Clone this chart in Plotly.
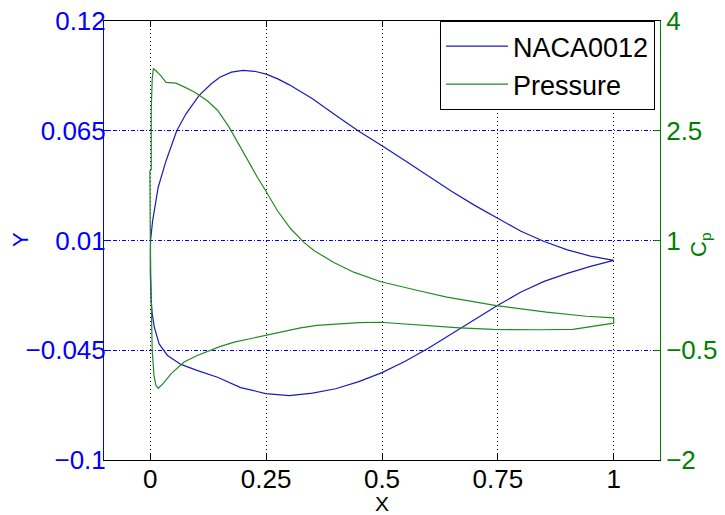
import plotly.graph_objects as go

# Airfoil surface coordinates (leading edge -> trailing edge)
upper_x = [0.0, 0.0005, 0.005, 0.017, 0.034, 0.057, 0.077, 0.105, 0.131, 0.150,
           0.175, 0.200, 0.225, 0.250, 0.275, 0.300, 0.350, 0.400, 0.450, 0.500,
           0.550, 0.600, 0.650, 0.700, 0.750, 0.800, 0.850, 0.900, 0.950, 1.0]
upper_y = [0.002, 0.010, 0.020, 0.0367, 0.050, 0.065, 0.0735, 0.0826, 0.0884, 0.0918,
           0.0944, 0.0953, 0.0948, 0.0934, 0.0910, 0.0880, 0.0810, 0.0728, 0.0648, 0.0575,
           0.0500, 0.0425, 0.0347, 0.0276, 0.0209, 0.0146, 0.0095, 0.0053, 0.0022, 0.0]
lower_x = [0.0, 0.0, 0.002, 0.004, 0.0086, 0.019, 0.037, 0.066, 0.102, 0.145, 0.195,
           0.249, 0.300, 0.350, 0.400, 0.450, 0.500, 0.550, 0.600, 0.650, 0.700,
           0.750, 0.800, 0.850, 0.900, 0.950, 1.0]
lower_y = [0.002, -0.0066, -0.020, -0.0266, -0.0334, -0.0418, -0.0476, -0.0521, -0.0552,
           -0.0585, -0.0637, -0.0667, -0.0677, -0.0665, -0.0643, -0.0607, -0.0562,
           -0.0505, -0.0440, -0.0368, -0.0297, -0.0225, -0.0158, -0.0105, -0.0065,
           -0.0030, 0.0]

# Pressure coefficient along each surface (leading edge -> trailing edge)
cp_upper_x = [0.0, -0.001, -0.001, 0.002, 0.002, 0.004, 0.0065, 0.012, 0.023, 0.034,
              0.055, 0.073, 0.095, 0.123, 0.145, 0.170, 0.202, 0.231, 0.249, 0.274,
              0.303, 0.331, 0.353, 0.396, 0.439, 0.496, 0.568, 0.640, 0.747, 0.855,
              0.941, 1.0]
cp_upper = [1.0, 1.5, 1.95, 1.97, 2.8, 3.2, 3.35, 3.32, 3.25, 3.16,
            3.15, 3.10, 3.03, 2.91, 2.78, 2.55, 2.18, 1.865, 1.68, 1.41,
            1.16, 0.977, 0.863, 0.70, 0.567, 0.44, 0.33, 0.225, 0.11, 0.02,
            -0.035, -0.057]
cp_lower_x = [0.0, 0.001, 0.002, 0.004, 0.008, 0.012, 0.017, 0.027, 0.045, 0.073,
              0.100, 0.123, 0.150, 0.181, 0.210, 0.249, 0.290, 0.324, 0.360, 0.396,
              0.450, 0.496, 0.530, 0.568, 0.668, 0.740, 0.840, 0.912, 0.955, 1.0]
cp_lower = [1.0, 0.5, 0.0, -0.5, -0.85, -0.98, -1.02, -0.96, -0.82, -0.66,
            -0.575, -0.52, -0.45, -0.39, -0.345, -0.30, -0.24, -0.195, -0.16, -0.14,
            -0.122, -0.117, -0.128, -0.148, -0.193, -0.216, -0.22, -0.214, -0.175, -0.13]

# Axis ticks
x_ticks = [0, 0.25, 0.5, 0.75, 1]
x_labels = ["0", "0.25", "0.5", "0.75", "1"]
y_ticks = [-0.1, -0.045, 0.01, 0.065, 0.12]
y_labels = ["\u22120.1", "\u22120.045", "0.01", "0.065", "0.12"]
cp_ticks = [-2, -0.5, 1, 2.5, 4]
cp_labels = ["\u22122", "\u22120.5", "1", "2.5", "4"]

BLUE = "#0000ff"
GREEN = "#008000"
BLUE_LINE = "#1c1cb4"
GREEN_LINE = "#228b22"
FONT = "Liberation Sans, Arial, Helvetica, sans-serif"

# closed outlines: lower surface LE->TE, then upper surface TE->LE
foil_x = lower_x + upper_x[::-1]
foil_y = lower_y + upper_y[::-1]
cp_x = cp_upper_x + cp_lower_x[::-1]
cp_y = cp_upper + cp_lower[::-1]

fig = go.Figure()
fig.add_trace(go.Scatter(x=foil_x, y=foil_y, mode="lines", name="NACA0012",
                         line=dict(color=BLUE_LINE, width=1.2), yaxis="y"))
fig.add_trace(go.Scatter(x=cp_x, y=cp_y, mode="lines", name="Pressure",
                         line=dict(color=GREEN_LINE, width=1.2), yaxis="y2"))

fig.update_layout(
    width=725, height=515,
    margin=dict(l=104, r=65, t=21, b=55, autoexpand=False),
    paper_bgcolor="white", plot_bgcolor="white",
    font=dict(family=FONT, size=26, color="black"),
    showlegend=True,
    legend=dict(x=0.991, y=1.0, xanchor="right", yanchor="top",
                bgcolor="white", bordercolor="black", borderwidth=1,
                itemwidth=62,
                font=dict(family=FONT, size=27, color="black")),
    xaxis=dict(range=[-0.1, 1.1], tickmode="array", tickvals=x_ticks, ticktext=x_labels,
               ticks="inside", ticklen=6, tickcolor="black", showline=True,
               linecolor="black", linewidth=1, mirror="ticks", zeroline=False,
               showgrid=True, gridcolor="black", gridwidth=1, griddash="1px,3px",
               ticklabelstandoff=-4,
               automargin=False, tickfont=dict(size=26, color="black")),
    yaxis=dict(range=[-0.1, 0.12], tickmode="array", tickvals=y_ticks, ticktext=y_labels,
               ticks="inside", ticklen=6, tickcolor=BLUE, showline=True,
               linecolor=BLUE, linewidth=1, zeroline=False, automargin=False,
               showgrid=True, gridcolor=BLUE, gridwidth=1, griddash="4px,2px,1px,2px",
               ticklabelstandoff=-8, tickfont=dict(size=26, color=BLUE)),
    yaxis2=dict(range=[-2, 4], overlaying="y", side="right", tickmode="array",
                tickvals=cp_ticks, ticktext=cp_labels, ticks="inside", ticklen=6,
                tickcolor=GREEN, showline=True, linecolor=GREEN, linewidth=1,
                zeroline=False, showgrid=False, automargin=False,
                tickfont=dict(size=26, color=GREEN)),
    annotations=[
        dict(text="X", xref="paper", yref="paper", x=0.5, y=-0.098,
             xanchor="center", yanchor="middle", showarrow=False,
             font=dict(size=21, color="black")),
        dict(text="Y", xref="paper", yref="paper", x=-0.151, y=0.501,
             xanchor="center", yanchor="middle", textangle=-90, showarrow=False,
             font=dict(size=22, color=BLUE)),
        dict(text="C<sub>p</sub>", xref="paper", yref="paper", x=1.072, y=0.49,
             xanchor="center", yanchor="middle", textangle=-90, showarrow=False,
             font=dict(size=22, color=GREEN)),
    ],
)

fig.write_html("out.html")
